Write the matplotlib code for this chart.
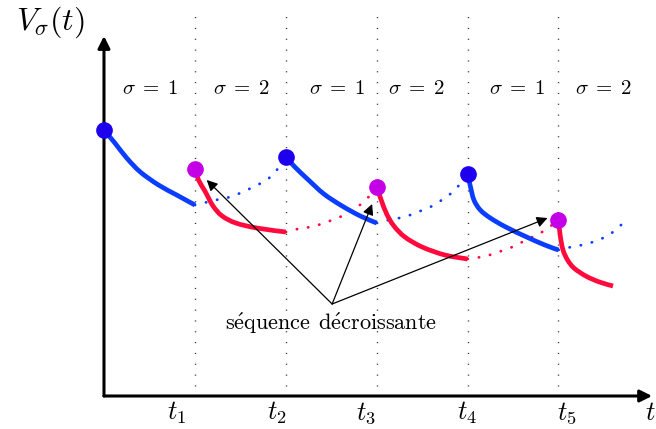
import numpy as np
import matplotlib.pyplot as plt
from matplotlib.path import Path
from matplotlib.patches import PathPatch

plt.rcParams['mathtext.fontset'] = 'cm'
plt.rcParams['font.family'] = ['DejaVu Serif']

# switching instants t1..t5 (time axis in units of one period)
switch_t = [1, 2, 3, 4, 5]
tick_labels = [r'$t_1$', r'$t_2$', r'$t_3$', r'$t_4$', r'$t_5$']
tick_label_t = [0.80, 1.90, 2.88, 3.99, 5.09]

# active mode labels
mode_labels = [r'$\sigma \;=\; 1$', r'$\sigma \;=\; 2$', r'$\sigma \;=\; 1$',
               r'$\sigma \;=\; 2$', r'$\sigma \;=\; 1$', r'$\sigma \;=\; 2$']
mode_label_t = [0.51, 1.51, 2.56, 3.44, 4.54, 5.49]

# V_1 while active (solid blue)
blue_solid_t = [
    [0.0, 0.12, 0.25, 0.40, 0.60, 0.80, 1.0],
    [2.0, 2.10, 2.25, 2.42, 2.62, 2.82, 3.0],
    [4.0, 4.03, 4.07, 4.14, 4.25, 4.42, 4.65, 4.85, 5.0],
]
blue_solid_v = [
    [2.66, 2.53, 2.38, 2.24, 2.11, 2.01, 1.91],
    [2.39, 2.29, 2.16, 2.02, 1.90, 1.80, 1.73],
    [2.22, 2.10, 1.96, 1.86, 1.78, 1.69, 1.59, 1.51, 1.46],
]

# V_1 while inactive (dotted blue)
blue_dot_t = [
    [1.0, 1.14, 1.28, 1.39, 1.50, 1.62, 1.73, 1.83, 1.91, 2.0],
    [3.0, 3.13, 3.25, 3.37, 3.48, 3.59, 3.70, 3.81, 3.89, 4.0],
    [5.0, 5.14, 5.26, 5.38, 5.49, 5.60, 5.70],
]
blue_dot_v = [
    [1.91, 1.94, 1.97, 1.99, 2.03, 2.08, 2.13, 2.19, 2.27, 2.39],
    [1.73, 1.76, 1.78, 1.81, 1.85, 1.89, 1.95, 2.02, 2.09, 2.22],
    [1.46, 1.49, 1.51, 1.54, 1.58, 1.64, 1.72],
]

# V_2 while active (solid red)
red_solid_t = [
    [1.0, 1.04, 1.11, 1.20, 1.30, 1.45, 1.68, 2.0],
    [3.0, 3.05, 3.11, 3.19, 3.31, 3.50, 3.75, 4.0],
    [5.0, 5.02, 5.05, 5.10, 5.17, 5.30, 5.45, 5.60],
]
red_solid_v = [
    [2.27, 2.16, 2.05, 1.90, 1.80, 1.73, 1.68, 1.64],
    [2.09, 1.96, 1.82, 1.70, 1.59, 1.49, 1.41, 1.37],
    [1.76, 1.60, 1.46, 1.36, 1.28, 1.20, 1.14, 1.10],
]

# V_2 while inactive (dotted red)
red_dot_t = [
    [2.0, 2.13, 2.27, 2.39, 2.51, 2.62, 2.73, 2.83, 2.92, 3.0],
    [4.0, 4.15, 4.28, 4.40, 4.52, 4.64, 4.76, 4.87, 5.0],
]
red_dot_v = [
    [1.64, 1.67, 1.69, 1.72, 1.76, 1.80, 1.86, 1.92, 2.00, 2.09],
    [1.37, 1.39, 1.42, 1.46, 1.50, 1.56, 1.61, 1.67, 1.76],
]

# values at switching instants
blue_marks_t = [0.0, 2.0, 4.0]
blue_marks_v = [2.66, 2.39, 2.22]
magenta_marks_t = [1.0, 3.0, 5.0]
magenta_marks_v = [2.27, 2.09, 1.76]

# annotation arrows (the decreasing sequence)
note_text = r'$\mathrm{s\acute{e}quence}\;\,\mathrm{d\acute{e}croissante}$'
note_from = (2.51, 0.92)
note_targets_t = [1.13, 2.95, 4.88]
note_targets_v = [2.16, 1.92, 1.78]

BLUE = '#0a3dff'
RED = '#ff0a3c'


def smooth_path(t, v):
    # catmull-rom through the read points, drawn as cubic beziers
    p = np.column_stack([t, v]).astype(float)
    p = np.vstack([p[0], p, p[-1]])
    verts = [p[1]]
    codes = [Path.MOVETO]
    for i in range(1, len(p) - 2):
        c1 = p[i] + (p[i + 1] - p[i - 1]) / 6
        c2 = p[i + 1] - (p[i + 2] - p[i]) / 6
        verts += [c1, c2, p[i + 1]]
        codes += [Path.CURVE4] * 3
    return Path(verts, codes)


def draw_curve(ax, t, v, **kw):
    ax.add_patch(PathPatch(smooth_path(t, v), fill=False, **kw))


fig = plt.figure(figsize=(6.56, 4.29), dpi=100)
ax = fig.add_axes([0, 0, 1, 1])
ax.set_xlim(-1.144, 6.073)
ax.set_ylim(-0.33, 3.96)
ax.axis('off')

# dotted separators
for t in switch_t:
    ax.plot([t, t], [0.10, 3.81], color='#333333', lw=1.0,
            ls=(0, (0.8, 7)), zorder=1)

# axes with arrows
ax.annotate('', xy=(6.03, 0), xytext=(0, 0),
            arrowprops=dict(arrowstyle='-|>', lw=2.2, color='black',
                            mutation_scale=18, shrinkA=0, shrinkB=0))
ax.annotate('', xy=(0, 3.60), xytext=(0, 0),
            arrowprops=dict(arrowstyle='-|>', lw=2.2, color='black',
                            mutation_scale=18, shrinkA=0, shrinkB=0))

for t, v in zip(blue_dot_t, blue_dot_v):
    draw_curve(ax, t, v, edgecolor=BLUE, lw=2.0, ls=(0, (0.1, 4)),
               capstyle='round', zorder=2)
for t, v in zip(red_dot_t, red_dot_v):
    draw_curve(ax, t, v, edgecolor=RED, lw=2.0, ls=(0, (0.1, 4)),
               capstyle='round', zorder=2)
for t, v in zip(blue_solid_t, blue_solid_v):
    draw_curve(ax, t, v, edgecolor=BLUE, lw=3.4, capstyle='butt',
               joinstyle='round', zorder=3)
for t, v in zip(red_solid_t, red_solid_v):
    draw_curve(ax, t, v, edgecolor=RED, lw=3.4, capstyle='butt',
               joinstyle='round', zorder=3)

ax.plot(blue_marks_t, blue_marks_v, 'o', ls='none', ms=11,
        color='#1f00ee', zorder=5)
ax.plot(magenta_marks_t, magenta_marks_v, 'o', ls='none', ms=11,
        color='#c400e6', zorder=5)

for t, v in zip(note_targets_t, note_targets_v):
    ax.annotate('', xy=(t, v), xytext=note_from,
                arrowprops=dict(arrowstyle='-|>', lw=0.9, color='black',
                                mutation_scale=16, shrinkA=0, shrinkB=0),
                zorder=4)
ax.text(2.50, 0.73, note_text, fontsize=16, ha='center', va='center')

for t, lab in zip(mode_label_t, mode_labels):
    ax.text(t, 3.08, lab, fontsize=15, ha='center', va='center')

for t, lab in zip(tick_label_t, tick_labels):
    ax.text(t, -0.17, lab, fontsize=19, ha='center', va='center')
ax.text(6.01, -0.17, r'$t$', fontsize=19, ha='center', va='center')
ax.text(-0.59, 3.74, r'$V_\sigma(t)$', fontsize=23, ha='center', va='center')

fig.savefig('out.png', dpi=100)
